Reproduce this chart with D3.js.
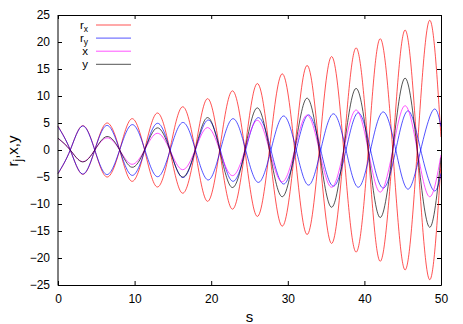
<!DOCTYPE html>
<html>
<head>
<meta charset="utf-8">
<script src="https://cdn.jsdelivr.net/npm/d3@7"></script>
<style>
body{margin:0;background:#fff;}
text{font-family:"Liberation Sans",Arial,sans-serif;}
</style>
</head>
<body>
<svg id="chart" width="463" height="324"></svg>
<script>
// s where the curves peak or cross zero
const sKnots = [0,1.6,3.2,4.8,6.4,8.05,9.65,11.3,12.95,14.6,16.25,17.9,19.5,21.1,22.75,24.4,26.0,27.6,29.25,30.9,32.5,34.1,35.7,37.3,38.9,40.5,42.05,43.7,45.3,46.9,48.5,50];
// r_y drifts a little to the right
const sKnotsRy = [0,1.6,3.2,4.8,6.4,8.05,9.7,11.35,13.0,14.65,16.3,17.95,19.6,21.2,22.85,24.5,26.15,27.8,29.45,31.1,32.7,34.3,35.95,37.6,39.2,40.8,42.45,44.1,45.7,47.35,49.0,50];

const rx1 = [4.4,0,-4.5,0,5.0,0,-5.8,0,6.85,0,-8.0,0,9.5,0,-10.95,0,12.3,0,-14.1,0,15.65,0,-17.3,0,18.9,0,-20.6,0,22.2,0,-24.0,-2.4];
const rx2 = [-4.4,0,4.5,0,-5.0,0,5.8,0,-6.85,0,8.0,0,-9.5,0,10.95,0,-12.3,0,14.1,0,-15.65,0,17.3,0,-18.9,0,20.6,0,-22.2,0,24.0,2.4];
const ry1 = [4.35,0,-4.45,0,4.55,0,-4.7,0,4.95,0,-5.1,0,5.55,0,-5.8,0,6.0,0,-6.3,0,6.5,0,-6.7,0,6.9,0,-7.05,0,7.25,0,-7.45,-4.3];
const ry2 = [-4.35,0,4.45,0,-4.55,0,4.7,0,-4.95,0,5.1,0,-5.55,0,5.8,0,-6.0,0,6.3,0,-6.5,0,6.7,0,-6.9,0,7.05,0,-7.25,0,7.45,4.3];
const xVals = [2.15,0,-2.15,0,2.25,0,-2.65,0,3.1,0,-3.65,0,4.15,0,-4.75,0,5.5,0,-5.9,0,6.45,0,-6.9,0,7.4,0,-7.8,0,8.2,0,-8.65,-0.9];
const yVals = [2.2,0,-2.2,0,2.5,0,-3.2,0,4.1,0,-5.0,0,6.0,0,-6.95,0,7.8,0,-8.65,0,9.6,0,-10.6,0,11.4,0,-12.5,0,13.3,0,-14.3,-1.4];

const sTicks = [0,10,20,30,40,50];
const yTicks = [-25,-20,-15,-10,-5,0,5,10,15,20,25];
const legendNames = [["r","x"],["r","y"],["x",""],["y",""]];
const legendColors = ["#ff0000","#0000ff","#ff00ff","#000000"];

const svg = d3.select("#chart");
const L = 58, R = 441, T = 15, B = 285;
const x = d3.scaleLinear().domain([0,50]).range([L,R]);
const y = d3.scaleLinear().domain([-25,25]).range([B,T]);

// axes, ticks point inward like gnuplot
svg.append("g").attr("transform","translate(0,"+B+")")
  .call(d3.axisBottom(x).tickValues(sTicks).tickSize(-4).tickPadding(9))
  .call(g=>g.select(".domain").remove());
svg.append("g").attr("transform","translate(0,"+T+")")
  .call(d3.axisTop(x).tickValues(sTicks).tickSize(-4).tickFormat(""))
  .call(g=>g.select(".domain").remove());
svg.append("g").attr("transform","translate("+L+",0)")
  .call(d3.axisLeft(y).tickValues(yTicks).tickSize(-4).tickPadding(8))
  .call(g=>g.select(".domain").remove());
svg.append("g").attr("transform","translate("+R+",0)")
  .call(d3.axisRight(y).tickValues(yTicks).tickSize(-4).tickFormat(""))
  .call(g=>g.select(".domain").remove());
svg.selectAll(".tick text").attr("font-size",12).attr("font-family","Liberation Sans, Arial, sans-serif").attr("fill","#000");
svg.selectAll(".tick line").attr("stroke","#000");

// curves
const series = [
  {s:sKnots, v:rx1, c:legendColors[0]},
  {s:sKnots, v:rx2, c:legendColors[0]},
  {s:sKnotsRy, v:ry1, c:legendColors[1]},
  {s:sKnotsRy, v:ry2, c:legendColors[1]},
  {s:sKnots, v:xVals, c:legendColors[2]},
  {s:sKnots, v:yVals, c:legendColors[3]}
];
const line = d3.line().x(d=>x(d[0])).y(d=>y(d[1])).curve(d3.curveNatural);
svg.append("g").selectAll("path")
  .data(series)
  .join("path")
    .attr("d", d=>line(d.s.map((s,i)=>[s,d.v[i]])))
    .attr("fill","none")
    .attr("stroke", d=>d.c)
    .attr("stroke-width",0.8)
    .attr("stroke-opacity",0.85);

// frame
svg.append("line").attr("x1",L).attr("x2",L).attr("y1",T).attr("y2",B+0.5).attr("stroke","#000");
svg.append("line").attr("x1",R+0.5).attr("x2",R+0.5).attr("y1",T).attr("y2",B+0.5).attr("stroke","#000");
svg.append("line").attr("x1",L).attr("x2",R+0.5).attr("y1",T+0.5).attr("y2",T+0.5).attr("stroke","#000");
svg.append("line").attr("x1",L).attr("x2",R+0.5).attr("y1",B+0.5).attr("y2",B+0.5).attr("stroke","#000");

// legend
const leg = svg.append("g").selectAll("g").data(legendNames).join("g")
  .attr("transform",(d,i)=>"translate(0,"+(25+i*13.1)+")");
leg.append("line").attr("x1",96).attr("x2",131).attr("y1",0).attr("y2",0)
  .attr("stroke",(d,i)=>legendColors[i]).attr("stroke-width",0.8).attr("stroke-opacity",0.85);
const lt = leg.append("text").attr("x",88).attr("y",4).attr("text-anchor","end").attr("font-size",11.5);
lt.append("tspan").text(d=>d[0]);
lt.filter(d=>d[1]!=="").append("tspan").attr("font-size",8.5).attr("dy",2.5).text(d=>d[1]);

// axis labels
svg.append("text").attr("x",(L+R)/2).attr("y",322).attr("text-anchor","middle").attr("font-size",15).text("s");
const yl = svg.append("text").attr("transform","translate(18,151) rotate(-90)").attr("text-anchor","middle").attr("font-size",15);
yl.append("tspan").text("r");
yl.append("tspan").attr("font-size",12).attr("dy",4).text("j");
yl.append("tspan").attr("dy",-4).text(",x,y");
</script>
</body>
</html>
